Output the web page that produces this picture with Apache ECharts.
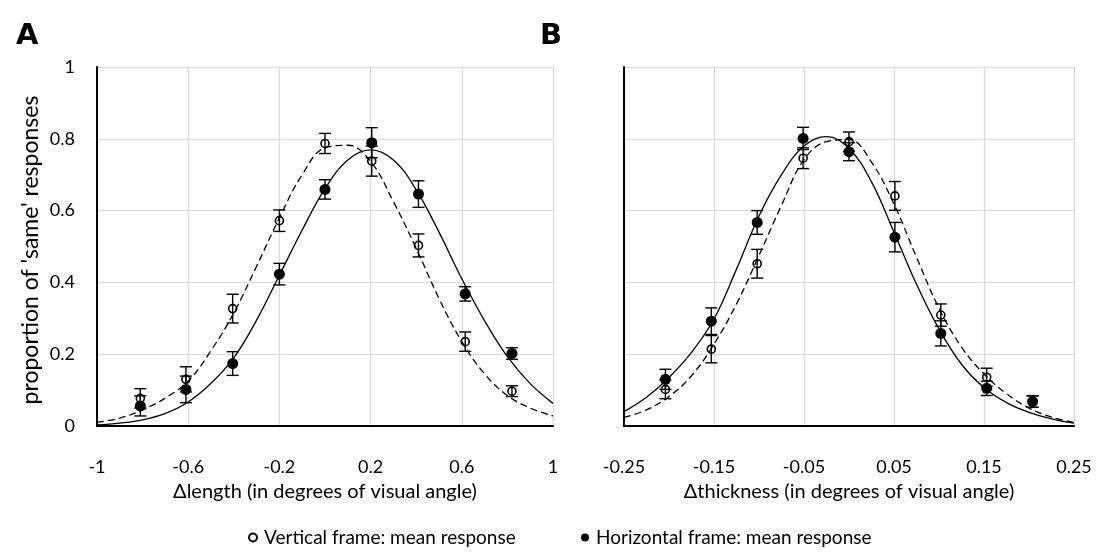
<!DOCTYPE html>
<html><head><meta charset="utf-8">
<script src="https://cdn.jsdelivr.net/npm/echarts@6/dist/echarts.min.js"></script>
<style>html,body{margin:0;padding:0;background:#fff}#c{width:1096px;height:556px}</style>
</head><body><div id="c"></div>
<script>
// ---------- Data ----------
const lengthX = [-0.81, -0.61, -0.405, -0.2, 0, 0.205, 0.41, 0.615, 0.82];
const lengthVerticalMean = [0.077, 0.13, 0.327, 0.572, 0.787, 0.738, 0.503, 0.235, 0.097];
const lengthVerticalErr  = [0.027, 0.035, 0.04, 0.03, 0.028, 0.042, 0.032, 0.027, 0.015];
const lengthHorizontalMean = [0.056, 0.102, 0.174, 0.423, 0.659, 0.789, 0.646, 0.368, 0.202];
const lengthHorizontalErr  = [0.028, 0.037, 0.033, 0.03, 0.027, 0.042, 0.037, 0.02, 0.016];

const thickX = [-0.204, -0.153, -0.102, -0.051, 0, 0.051, 0.102, 0.153, 0.204];
const thickVerticalMean = [0.102, 0.214, 0.452, 0.746, 0.792, 0.641, 0.309, 0.136, 0.068];
const thickVerticalErr  = [0.026, 0.038, 0.04, 0.029, 0.027, 0.04, 0.031, 0.025, 0.016];
const thickHorizontalMean = [0.13, 0.292, 0.567, 0.801, 0.764, 0.526, 0.258, 0.105, 0.068];
const thickHorizontalErr  = [0.028, 0.037, 0.033, 0.031, 0.025, 0.041, 0.035, 0.02, 0.016];

// fitted curves
const lengthCurveX = [-1, -0.9, -0.8, -0.7, -0.6, -0.5, -0.4, -0.3, -0.2, -0.1, 0, 0.1, 0.2, 0.3, 0.4, 0.5, 0.6, 0.7, 0.8, 0.9, 1];
const lengthFitVertical   = [0.01, 0.022, 0.045, 0.078, 0.125, 0.21, 0.315, 0.445, 0.58, 0.70, 0.775, 0.782, 0.737, 0.625, 0.495, 0.355, 0.235, 0.145, 0.085, 0.05, 0.028];
const lengthFitHorizontal = [0.003, 0.008, 0.017, 0.035, 0.067, 0.119, 0.19, 0.295, 0.42, 0.546, 0.661, 0.741, 0.769, 0.741, 0.658, 0.54, 0.41, 0.293, 0.193, 0.118, 0.063];

const thickCurveX = [-0.25, -0.225, -0.2, -0.175, -0.15, -0.125, -0.1, -0.075, -0.05, -0.025, 0, 0.025, 0.05, 0.075, 0.1, 0.125, 0.15, 0.175, 0.2, 0.225, 0.25];
const thickFitVertical   = [0.024, 0.045, 0.082, 0.14, 0.228, 0.34, 0.475, 0.615, 0.742, 0.792, 0.798, 0.735, 0.618, 0.47, 0.328, 0.22, 0.145, 0.09, 0.05, 0.025, 0.01];
const thickFitHorizontal = [0.04, 0.08, 0.135, 0.205, 0.298, 0.437, 0.585, 0.70, 0.78, 0.806, 0.773, 0.68, 0.54, 0.395, 0.27, 0.172, 0.107, 0.065, 0.038, 0.02, 0.008];

// tick labels
const lengthTicks = [-1, -0.6, -0.2, 0.2, 0.6, 1];
const thickTicks = [-0.25, -0.15, -0.05, 0.05, 0.15, 0.25];
const yTicks = [0, 0.2, 0.4, 0.6, 0.8, 1];

const seriesNames = ['Vertical frame: mean response', 'Horizontal frame: mean response'];
const axisTitles = ['\u0394length (in degrees of visual angle)', '\u0394thickness (in degrees of visual angle)'];
const yTitle = "proportion of 'same' responses";
const panelLetters = ['A', 'B'];

// ---------- Chart ----------
const FONT = 'Lato, "Open Sans", sans-serif';
const step = t => +(t[1] - t[0]).toFixed(6);
const zip = (xs, ys) => xs.map((x, i) => [x, ys[i]]);

function xAxisFor(ticks, gi, name) {
  return {
    type: 'value', gridIndex: gi, min: ticks[0], max: ticks[ticks.length - 1], interval: step(ticks),
    axisLine: { show: true, onZero: false, lineStyle: { color: '#000', width: 2 } },
    axisTick: { show: false },
    axisLabel: { color: '#000', fontSize: 18, fontFamily: FONT, margin: 32 },
    splitLine: { show: true, lineStyle: { color: '#d9d9d9', width: 1.2 } },
    name: name, nameLocation: 'middle', nameGap: 56,
    nameTextStyle: { color: '#000', fontSize: 20, fontFamily: FONT }
  };
}
function yAxisFor(gi, showLabels) {
  return {
    type: 'value', gridIndex: gi, min: yTicks[0], max: yTicks[yTicks.length - 1], interval: step(yTicks),
    axisLine: { show: true, onZero: false, lineStyle: { color: '#000', width: 2 } },
    axisTick: { show: false },
    axisLabel: { show: showLabels, color: '#000', fontSize: 18, fontFamily: FONT, margin: 22 },
    splitLine: { show: true, lineStyle: { color: '#d9d9d9', width: 1.2 } }
  };
}
function errSeries(xs, means, errs, gi) {
  return {
    type: 'custom', xAxisIndex: gi, yAxisIndex: gi, z: 3, silent: true,
    data: xs.map((x, i) => [x, means[i] - errs[i], means[i] + errs[i]]),
    encode: { x: 0, y: [1, 2] },
    renderItem: function (params, api) {
      const x = api.value(0);
      const lo = api.coord([x, api.value(1)]);
      const hi = api.coord([x, api.value(2)]);
      const w = 6;
      const st = { stroke: '#000', lineWidth: 1.4, fill: null };
      return { type: 'group', children: [
        { type: 'line', shape: { x1: lo[0], y1: lo[1], x2: hi[0], y2: hi[1] }, style: st },
        { type: 'line', shape: { x1: lo[0] - w, y1: lo[1], x2: lo[0] + w, y2: lo[1] }, style: st },
        { type: 'line', shape: { x1: hi[0] - w, y1: hi[1], x2: hi[0] + w, y2: hi[1] }, style: st }
      ]};
    }
  };
}
function curve(xs, ys, gi, dashed) {
  return {
    type: 'line', xAxisIndex: gi, yAxisIndex: gi, data: zip(xs, ys), smooth: 0.4,
    showSymbol: false, silent: true, z: 2,
    lineStyle: { color: '#000', width: 1.3, type: dashed ? [7, 4] : 'solid' }
  };
}
function openPts(xs, ys, gi) {
  return {
    type: 'scatter', name: seriesNames[0], xAxisIndex: gi, yAxisIndex: gi, data: zip(xs, ys),
    symbol: 'circle', symbolSize: 8, z: 4,
    itemStyle: { color: 'rgba(255,255,255,0)', borderColor: '#000', borderWidth: 1.6, opacity: 1 }
  };
}
function filledPts(xs, ys, gi) {
  return {
    type: 'scatter', name: seriesNames[1], xAxisIndex: gi, yAxisIndex: gi, data: zip(xs, ys),
    symbol: 'circle', symbolSize: 11, z: 5,
    itemStyle: { color: '#000', opacity: 1 }
  };
}
function legendAt(left, name) {
  return {
    left: left, top: 523, itemWidth: 8, itemHeight: 8, icon: 'circle', itemGap: 6,
    data: [name], selectedMode: false,
    textStyle: { color: '#000', fontSize: 19, fontFamily: FONT, padding: [0, 0, 0, 2] }
  };
}

const chart = echarts.init(document.getElementById('c'), null, { renderer: 'canvas' });
chart.setOption({
  backgroundColor: '#fff',
  animation: false,
  grid: [
    { left: 97, top: 67, width: 456, height: 359 },
    { left: 624, top: 67, width: 450, height: 359 }
  ],
  xAxis: [xAxisFor(lengthTicks, 0, axisTitles[0]), xAxisFor(thickTicks, 1, axisTitles[1])],
  yAxis: [yAxisFor(0, true), yAxisFor(1, false)],
  legend: [legendAt(243, seriesNames[0]), legendAt(576, seriesNames[1])],
  graphic: [
    { type: 'text', x: 16, y: 22, style: { text: panelLetters[0], font: '900 29px "DejaVu Sans", sans-serif', fill: '#000' } },
    { type: 'text', x: 540, y: 22, style: { text: panelLetters[1], font: '900 29px "DejaVu Sans", sans-serif', fill: '#000' } },
    { type: 'text', x: 31, y: 250, rotation: Math.PI / 2,
      style: { text: yTitle, font: '23px ' + FONT, fill: '#000', align: 'center', verticalAlign: 'middle' } }
  ],
  series: [
    curve(lengthCurveX, lengthFitVertical, 0, true),
    curve(lengthCurveX, lengthFitHorizontal, 0, false),
    errSeries(lengthX, lengthVerticalMean, lengthVerticalErr, 0),
    errSeries(lengthX, lengthHorizontalMean, lengthHorizontalErr, 0),
    openPts(lengthX, lengthVerticalMean, 0),
    filledPts(lengthX, lengthHorizontalMean, 0),
    curve(thickCurveX, thickFitVertical, 1, true),
    curve(thickCurveX, thickFitHorizontal, 1, false),
    errSeries(thickX, thickVerticalMean, thickVerticalErr, 1),
    errSeries(thickX, thickHorizontalMean, thickHorizontalErr, 1),
    openPts(thickX, thickVerticalMean, 1),
    filledPts(thickX, thickHorizontalMean, 1)
  ]
});
</script></body></html>
